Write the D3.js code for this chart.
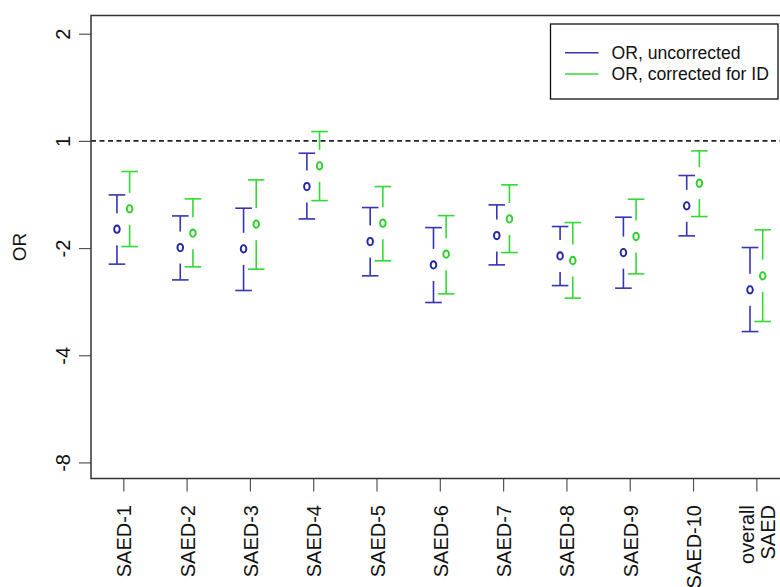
<!DOCTYPE html>
<html>
<head>
<meta charset="utf-8">
<script src="https://cdn.jsdelivr.net/npm/d3@7"></script>
<style>
  html, body { margin: 0; padding: 0; background: #fff; }
  svg { display: block; font-family: "Liberation Sans", Arial, sans-serif; }
</style>
</head>
<body>
<svg id="chart" width="780" height="587"></svg>
<script>
// ---- data (log2 odds-ratio units; axis labels show signed fold) ----
const categories = ["SAED-1","SAED-2","SAED-3","SAED-4","SAED-5","SAED-6","SAED-7","SAED-8","SAED-9","SAED-10","overall\nSAED"];
const uncorrected      = [-0.824,-0.995,-1.007,-0.426,-0.939,-1.157,-0.883,-1.073,-1.042,-0.606,-1.390];
const uncorrectedUpper = [-0.504,-0.700,-0.628,-0.115,-0.622,-0.809,-0.597,-0.799,-0.712,-0.323,-0.995];
const uncorrectedLower = [-1.150,-1.297,-1.396,-0.728,-1.259,-1.508,-1.157,-1.350,-1.374,-0.886,-1.779];
const corrected        = [-0.634,-0.861,-0.777,-0.233,-0.768,-1.057,-0.728,-1.116,-0.892,-0.395,-1.259];
const correctedUpper   = [-0.286,-0.541,-0.364, 0.087,-0.426,-0.697,-0.410,-0.762,-0.544,-0.093,-0.830];
const correctedLower   = [-0.986,-1.175,-1.197,-0.557,-1.119,-1.427,-1.042,-1.467,-1.241,-0.706,-1.685];
const yTickValues = [1, 0, -1, -2, -3];
const yTickLabels = ["2", "1", "-2", "-4", "-8"];
const seriesNames = ["OR, uncorrected", "OR, corrected for ID"];
const seriesColors = ["#3434b4", "#34d834"];
const pointColors = ["#2424a6", "#2ed02e"];

(function () {
const svg = d3.select("#chart");
const mLeft = 91, mRight = 788, mTop = 15.5, mBottom = 478.5;

const x = d3.scaleLinear().domain([0.49, 11.5]).range([mLeft, mRight]);
const y = d3.scaleLinear().domain([-3.15, 1.17]).range([mBottom, mTop]);

// reference line at OR = 1
svg.append("line")
  .attr("x1", mLeft).attr("x2", mRight)
  .attr("y1", y(0)).attr("y2", y(0))
  .attr("stroke", "#222").attr("stroke-width", 1.6)
  .attr("stroke-dasharray", "5,3.5");

// y axis
const yAxis = d3.axisLeft(y).tickValues(yTickValues)
  .tickFormat((d, i) => yTickLabels[i]).tickSize(12).tickPadding(0);
const gy = svg.append("g").attr("transform", `translate(${mLeft},0)`).call(yAxis);
gy.select(".domain").remove();
gy.selectAll(".tick line").attr("stroke", "#555").attr("stroke-width", 1.2);
gy.selectAll(".tick text")
  .attr("x", 0).attr("dy", null).attr("y", 0)
  .attr("transform", "translate(-21,0) rotate(-90)")
  .attr("text-anchor", "middle")
  .attr("font-size", 20).attr("fill", "#111");

// x axis
const xAxis = d3.axisBottom(x).tickValues(d3.range(1, categories.length + 1))
  .tickFormat("").tickSize(13);
const gx = svg.append("g").attr("transform", `translate(0,${mBottom})`).call(xAxis);
gx.select(".domain").remove();
gx.selectAll(".tick line").attr("stroke", "#555").attr("stroke-width", 1.2);
gx.selectAll(".tick").each(function(d, i) {
  const lines = categories[i].split("\n");
  const t = d3.select(this).append("text")
    .attr("transform", "translate(0,26.5) rotate(-90)")
    .attr("text-anchor", "end")
    .attr("font-size", 20).attr("fill", "#111");
  const n = lines.length;
  lines.forEach((ln, k) => {
    const base = 7.5 + (k - (n - 1) / 2) * 21.5;
    t.append("tspan").attr("x", 0).attr("y", base).text(ln);
  });
});

// frame
svg.append("rect")
  .attr("x", mLeft).attr("y", mTop)
  .attr("width", mRight - mLeft).attr("height", mBottom - mTop)
  .attr("fill", "none").attr("stroke", "#333").attr("stroke-width", 1.5);

// y title
svg.append("text")
  .attr("transform", `translate(26,${(mTop + mBottom) / 2}) rotate(-90)`)
  .attr("text-anchor", "middle")
  .attr("font-size", 19).attr("fill", "#111")
  .text("OR");

// error bars
const series = [
  { mid: uncorrected, up: uncorrectedUpper, lo: uncorrectedLower, off: -0.1 },
  { mid: corrected, up: correctedUpper, lo: correctedLower, off: 0.1 }
];
const gap = 16, capHalf = 8.3;
series.forEach((s, si) => {
  const g = svg.append("g");
  categories.forEach((c, i) => {
    const cx = x(i + 1 + s.off);
    const ym = y(s.mid[i]), yu = y(s.up[i]), yl = y(s.lo[i]);
    const col = seriesColors[si];
    g.append("line").attr("x1", cx).attr("x2", cx).attr("y1", yu).attr("y2", ym - gap)
      .attr("stroke", col).attr("stroke-width", 1.6);
    g.append("line").attr("x1", cx - capHalf).attr("x2", cx + capHalf).attr("y1", yu).attr("y2", yu)
      .attr("stroke", col).attr("stroke-width", 1.6);
    g.append("line").attr("x1", cx).attr("x2", cx).attr("y1", ym + gap).attr("y2", yl)
      .attr("stroke", col).attr("stroke-width", 1.6);
    g.append("line").attr("x1", cx - capHalf).attr("x2", cx + capHalf).attr("y1", yl).attr("y2", yl)
      .attr("stroke", col).attr("stroke-width", 1.6);
    g.append("ellipse").attr("cx", cx).attr("cy", ym).attr("rx", 2.8).attr("ry", 3.7)
      .attr("fill", "none").attr("stroke", pointColors[si]).attr("stroke-width", 1.9);
  });
});

// legend
const lg = svg.append("g");
lg.append("rect").attr("x", 550.5).attr("y", 24).attr("width", 227.5).attr("height", 75)
  .attr("fill", "#fff").attr("stroke", "#111").attr("stroke-width", 1.3);
seriesNames.forEach((nm, i) => {
  const cy = 52.7 + i * 21.3;
  lg.append("line").attr("x1", 565).attr("x2", 598.5).attr("y1", cy).attr("y2", cy)
    .attr("stroke", seriesColors[i]).attr("stroke-width", 1.6);
  lg.append("text").attr("x", 611.5).attr("y", cy + 6.2)
    .attr("font-size", 17.6).attr("fill", "#111").text(nm);
});
})();
</script>
</body>
</html>
